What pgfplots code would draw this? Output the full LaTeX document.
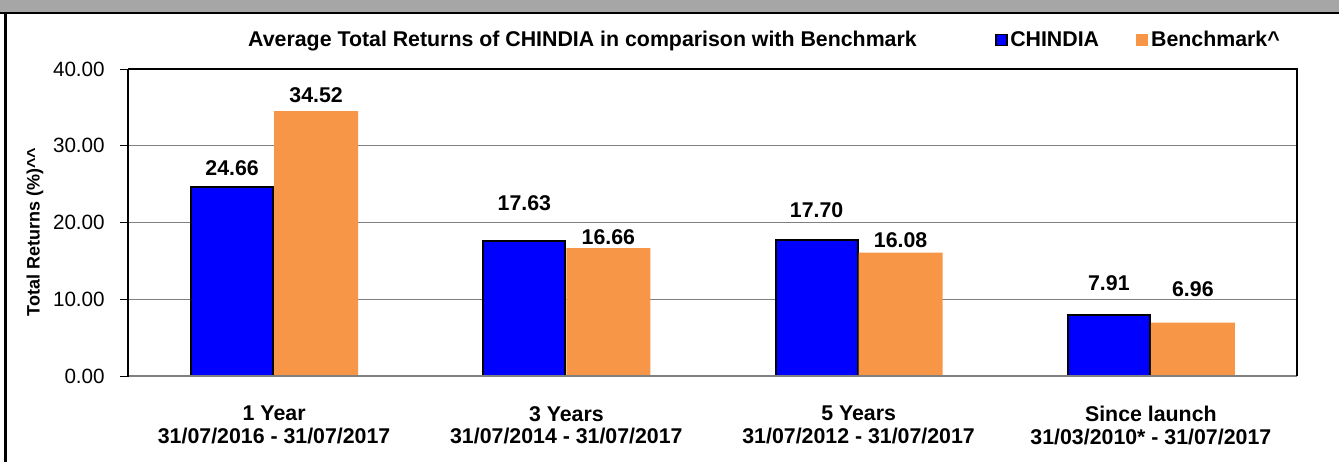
\documentclass[border=0pt]{standalone}
\usepackage{fontspec}
\setmainfont{Liberation Sans}
\usepackage{pgfplots}
\pgfplotsset{compat=1.18}
\definecolor{cblue}{RGB}{0,0,255}
\definecolor{corange}{RGB}{247,150,70}
\definecolor{bandgray}{RGB}{166,166,166}
\definecolor{gridgray}{RGB}{128,128,128}
\begin{document}
\begin{tikzpicture}
\useasboundingbox (0pt,0pt) rectangle (1004.25pt,346.5pt);
\fill[bandgray] (0pt,337.5pt) rectangle (1004.25pt,346.5pt);
\draw[line width=1.5pt] (0pt,336.75pt) -- (1004.25pt,336.75pt);
\draw[line width=1.8pt] (4pt,337.1pt) -- (4pt,0pt);
\begin{axis}[
  at={(96pt,64.5pt)}, anchor=south west, scale only axis,
  width=876.75pt, height=230.25pt,
  xmin=-0.5, xmax=3.5, ymin=0, ymax=40,
  clip=false,
  axis line style={draw=none},
  ytick={0,10,20,30,40},
  ytick pos=left,
  tick align=outside,
  major tick length=6pt,
  tick style={black, line width=0.75pt},
  xtick={0,1,2,3},
  xtick style={draw=none},
  xticklabels={{1 Year\\31/07/2016 - 31/07/2017},{3 Years\\31/07/2014 - 31/07/2017},{5 Years\\31/07/2012 - 31/07/2017},{Since launch\\31/03/2010* - 31/07/2017}},
  xticklabel style={align=center, font=\bfseries\fontsize{16}{16.8}\selectfont, inner sep=0pt, anchor=north, yshift=-16.5pt},
  yticklabel style={font=\fontsize{15.5}{18}\selectfont, anchor=east, inner sep=0pt, xshift=-11.25pt},
  /pgf/number format/fixed, /pgf/number format/fixed zerofill,
  /pgf/number format/precision=2, /pgf/number format/assume math mode=true,
  ymajorgrids, grid style={gridgray, line width=0.75pt},
  ylabel={Total Returns (\%)\textasciicircum\textasciicircum},
  every axis y label/.style={at={(rel axis cs:-0.0796,0.469)}, rotate=90, anchor=center, font=\bfseries\fontsize{13.5}{15}\selectfont},
  legend columns=2,
  legend style={at={(rel axis cs:0.7417,1.0945)}, anchor=west, draw=none, fill=none, inner sep=0pt,
    font=\bfseries\fontsize{16}{18}\selectfont,
    /tikz/every even column/.append style={column sep=26pt}},
]
\addplot[ybar, bar width=61.5pt, bar shift=-31.5pt, fill=cblue, draw=black, line width=1.5pt,
  legend image code/.code={\draw[fill=cblue, draw=black, line width=1.2pt] (0pt,-4pt) rectangle (8pt,4pt);}]
  coordinates {(0,24.66) (1,17.63) (2,17.70) (3,7.91)};
\addlegendentry{CHINDIA}
\addplot[ybar, bar width=63pt, bar shift=31.5pt, fill=corange, draw=none,
  legend image code/.code={\fill[corange] (0pt,-4.5pt) rectangle (9pt,4.5pt);}]
  coordinates {(0,34.52) (1,16.66) (2,16.08) (3,6.96)};
\addlegendentry{Benchmark\textasciicircum}
\addplot[draw=none, forget plot, nodes near coords, point meta=explicit symbolic,
  every node near coord/.append style={anchor=center, inner sep=0pt, font=\bfseries\fontsize{16}{18}\selectfont}]
  coordinates {(-0.1437,27.1) [24.66] (0.8563,22.54) [17.63] (1.8563,21.63) [17.70] (2.8563,12.12) [7.91]};
\addplot[draw=none, forget plot, nodes near coords, point meta=explicit symbolic,
  every node near coord/.append style={anchor=center, inner sep=0pt, font=\bfseries\fontsize{16}{18}\selectfont}]
  coordinates {(0.1437,36.6) [34.52] (1.1437,18.11) [16.66] (2.1437,17.72) [16.08] (3.1437,11.34) [6.96]};
\draw[gridgray, line width=1.5pt] (rel axis cs:0,0) -- (rel axis cs:1,0);
\draw[black, line width=1.2pt] (rel axis cs:0,1) -- (rel axis cs:1,1) -- (rel axis cs:1,0);
\draw[black, line width=1.6pt] (rel axis cs:0,-0.002) -- (rel axis cs:0,1);
\node[anchor=base, inner sep=0pt, font=\bfseries\fontsize{16}{18}\selectfont] at (rel axis cs:0.3888,1.0749) {Average Total Returns of CHINDIA in comparison with Benchmark};
\end{axis}
\end{tikzpicture}
\end{document}
